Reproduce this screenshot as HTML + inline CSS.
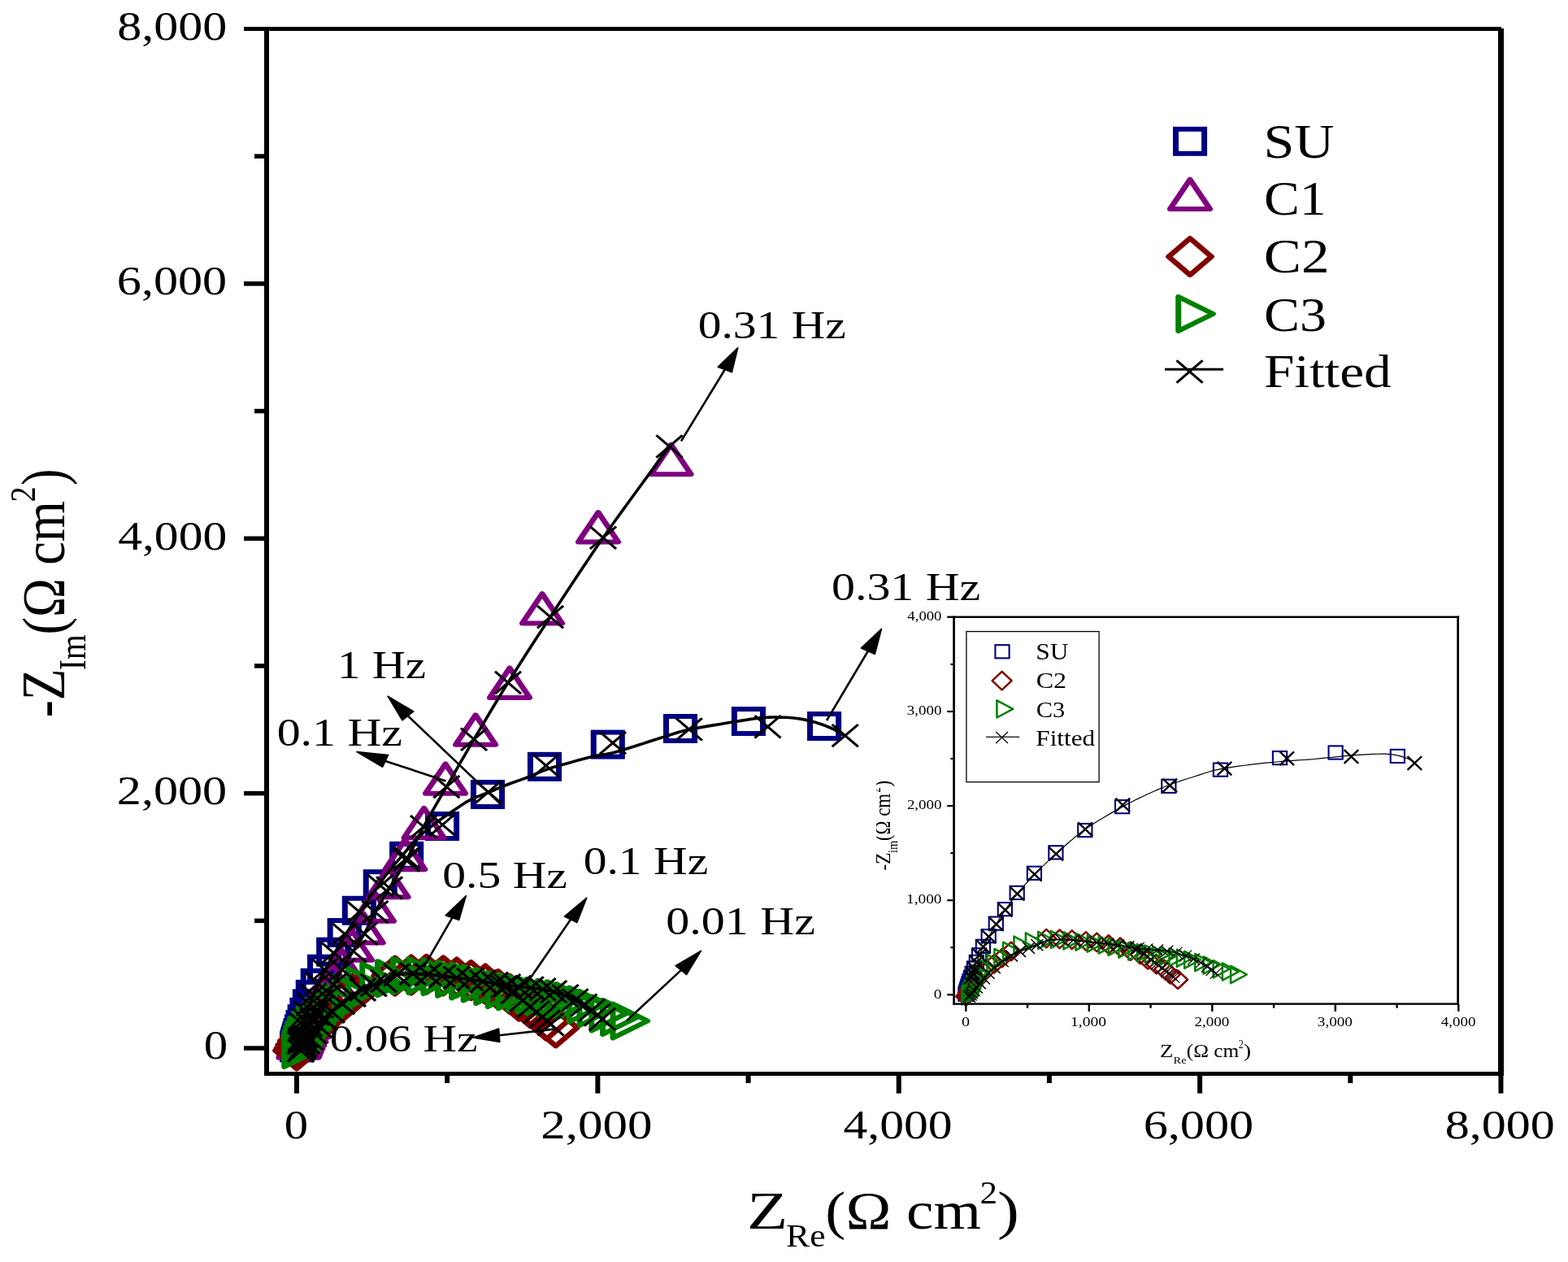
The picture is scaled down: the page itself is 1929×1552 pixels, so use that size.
<!DOCTYPE html><html><head><meta charset="utf-8"><title>Nyquist plot</title><style>html,body{margin:0;padding:0;background:#fff;}svg{display:block;}</style></head><body>
<svg width="1929" height="1552" viewBox="0 0 1929 1552" font-family="Liberation Serif, Times New Roman, serif" fill="#000">
<rect width="100%" height="100%" fill="#fff"/>
<defs>
<rect id="msq" x="-15" y="-15" width="30" height="30" fill="none" stroke="#000080" stroke-width="6" stroke-linejoin="miter"/>
<path id="mtri" d="M0,-18.2L21,18.2L-21,18.2Z" fill="none" stroke="#800080" stroke-width="6" stroke-linejoin="round"/>
<path id="mdia" d="M0,-22.5L22.5,0L0,22.5L-22.5,0Z" fill="none" stroke="#800000" stroke-width="6" stroke-linejoin="round"/>
<path id="mrt" d="M-18.2,-21L18.2,0L-18.2,21Z" fill="none" stroke="#008000" stroke-width="6" stroke-linejoin="round"/>
<path id="mx" d="M-13.7,-13.7L13.7,13.7M-13.7,13.7L13.7,-13.7" fill="none" stroke="#000" stroke-width="2.8"/>
<rect id="isq" x="-8.6" y="-8.1" width="17.2" height="16.2" fill="none" stroke="#000080" stroke-width="2.1"/>
<path id="idia" d="M0,-11.3L12,0L0,11.3L-12,0Z" fill="none" stroke="#800000" stroke-width="2.5" stroke-linejoin="round"/>
<path id="irt" d="M-9.9,-10.6L9.9,0L-9.9,10.6Z" fill="none" stroke="#008000" stroke-width="2.5" stroke-linejoin="round"/>
<path id="ix" d="M-7.4,-7L7.4,7M-7.4,7L7.4,-7" fill="none" stroke="#000" stroke-width="1.2"/>
<path id="ixb" d="M-8.8,-8.3L8.8,8.3M-8.8,8.3L8.8,-8.3" fill="none" stroke="#000" stroke-width="2.4"/>
<clipPath id="insclip"><rect x="1078" y="700" width="851" height="640"/></clipPath>
</defs>
<g>
<use href="#msq" transform="translate(365.09,1288.35) scale(1.17,1)"/>
<use href="#msq" transform="translate(365.11,1288.19) scale(1.17,1)"/>
<use href="#msq" transform="translate(365.14,1288) scale(1.17,1)"/>
<use href="#msq" transform="translate(365.18,1287.77) scale(1.17,1)"/>
<use href="#msq" transform="translate(365.23,1287.48) scale(1.17,1)"/>
<use href="#msq" transform="translate(365.3,1287.13) scale(1.17,1)"/>
<use href="#msq" transform="translate(365.38,1286.69) scale(1.17,1)"/>
<use href="#msq" transform="translate(365.49,1286.15) scale(1.17,1)"/>
<use href="#msq" transform="translate(365.63,1285.48) scale(1.17,1)"/>
<use href="#msq" transform="translate(365.81,1284.65) scale(1.17,1)"/>
<use href="#msq" transform="translate(366.04,1283.63) scale(1.17,1)"/>
<use href="#msq" transform="translate(366.33,1282.37) scale(1.17,1)"/>
<use href="#msq" transform="translate(366.7,1280.82) scale(1.17,1)"/>
<use href="#msq" transform="translate(367.18,1278.9) scale(1.17,1)"/>
<use href="#msq" transform="translate(367.8,1276.52) scale(1.17,1)"/>
<use href="#msq" transform="translate(368.59,1273.6) scale(1.17,1)"/>
<use href="#msq" transform="translate(369.6,1269.99) scale(1.17,1)"/>
<use href="#msq" transform="translate(370.89,1265.53) scale(1.17,1)"/>
<use href="#msq" transform="translate(372.56,1260.02) scale(1.17,1)"/>
<use href="#msq" transform="translate(374.69,1253.22) scale(1.17,1)"/>
<use href="#msq" transform="translate(377.42,1244.83) scale(1.17,1)"/>
<use href="#msq" transform="translate(380.93,1234.47) scale(1.17,1)"/>
<use href="#msq" transform="translate(384.81,1222.87) scale(1.17,1)"/>
<use href="#msq" transform="translate(390.74,1208.77) scale(1.17,1)"/>
<use href="#msq" transform="translate(399.07,1191.69) scale(1.17,1)"/>
<use href="#msq" transform="translate(410.18,1170.69) scale(1.17,1)"/>
<use href="#msq" transform="translate(423.7,1147.03) scale(1.17,1)"/>
<use href="#msq" transform="translate(441.85,1119.76) scale(1.17,1)"/>
<use href="#msq" transform="translate(467.77,1087.17) scale(1.17,1)"/>
<use href="#msq" transform="translate(500.18,1052.85) scale(1.17,1)"/>
<use href="#msq" transform="translate(544.07,1016.03) scale(1.17,1)"/>
<use href="#msq" transform="translate(599.99,977.01) scale(1.17,1)"/>
<use href="#msq" transform="translate(669.99,942.85) scale(1.17,1)"/>
<use href="#msq" transform="translate(747.77,915.58) scale(1.17,1)"/>
<use href="#msq" transform="translate(837.02,896) scale(1.17,1)"/>
<use href="#msq" transform="translate(920.91,887.06) scale(1.17,1)"/>
<use href="#msq" transform="translate(1014.06,893.02) scale(1.17,1)"/>
<use href="#mtri" transform="translate(367.39,1282.56) scale(1.17,1)"/>
<use href="#mtri" transform="translate(367.99,1281.15) scale(1.17,1)"/>
<use href="#mtri" transform="translate(368.74,1279.42) scale(1.17,1)"/>
<use href="#mtri" transform="translate(369.67,1277.32) scale(1.17,1)"/>
<use href="#mtri" transform="translate(370.84,1274.75) scale(1.17,1)"/>
<use href="#mtri" transform="translate(372.3,1271.63) scale(1.17,1)"/>
<use href="#mtri" transform="translate(374.13,1267.81) scale(1.17,1)"/>
<use href="#mtri" transform="translate(376.41,1263.16) scale(1.17,1)"/>
<use href="#mtri" transform="translate(379.26,1257.49) scale(1.17,1)"/>
<use href="#mtri" transform="translate(382.83,1250.57) scale(1.17,1)"/>
<use href="#mtri" transform="translate(387.28,1242.14) scale(1.17,1)"/>
<use href="#mtri" transform="translate(392.85,1231.85) scale(1.17,1)"/>
<use href="#mtri" transform="translate(399.82,1219.31) scale(1.17,1)"/>
<use href="#mtri" transform="translate(408.52,1204.01) scale(1.17,1)"/>
<use href="#mtri" transform="translate(419.4,1185.35) scale(1.17,1)"/>
<use href="#mtri" transform="translate(433,1162.6) scale(1.17,1)"/>
<use href="#mtri" transform="translate(446.7,1141.3) scale(1.17,1)"/>
<use href="#mtri" transform="translate(459.9,1114.6) scale(1.17,1)"/>
<use href="#mtri" transform="translate(477.6,1085) scale(1.17,1)"/>
<use href="#mtri" transform="translate(498.3,1051) scale(1.17,1)"/>
<use href="#mtri" transform="translate(521.6,1012) scale(1.17,1)"/>
<use href="#mtri" transform="translate(548,957.6) scale(1.17,1)"/>
<use href="#mtri" transform="translate(585.1,897.5) scale(1.17,1)"/>
<use href="#mtri" transform="translate(627,839.7) scale(1.17,1)"/>
<use href="#mtri" transform="translate(667,748.4) scale(1.17,1)"/>
<use href="#mtri" transform="translate(736,648.3) scale(1.17,1)"/>
<use href="#mtri" transform="translate(825.5,565) scale(1.17,1)"/>
<use href="#mdia" transform="translate(683.69,1263.93) scale(1.17,1)"/>
<use href="#mdia" transform="translate(672.4,1255.31) scale(1.17,1)"/>
<use href="#mdia" transform="translate(663.14,1246.69) scale(1.17,1)"/>
<use href="#mdia" transform="translate(651.29,1238.7) scale(1.17,1)"/>
<use href="#mdia" transform="translate(638.51,1231.02) scale(1.17,1)"/>
<use href="#mdia" transform="translate(627.21,1222.4) scale(1.17,1)"/>
<use href="#mdia" transform="translate(612.77,1216.6) scale(1.17,1)"/>
<use href="#mdia" transform="translate(597.03,1210.02) scale(1.17,1)"/>
<use href="#mdia" transform="translate(579.44,1205.64) scale(1.17,1)"/>
<use href="#mdia" transform="translate(561.85,1202.03) scale(1.17,1)"/>
<use href="#mdia" transform="translate(545.37,1199.99) scale(1.17,1)"/>
<use href="#mdia" transform="translate(524.44,1198.43) scale(1.17,1)"/>
<use href="#mdia" transform="translate(505.92,1199.05) scale(1.17,1)"/>
<use href="#mdia" transform="translate(485.92,1200.15) scale(1.17,1)"/>
<use href="#mdia" transform="translate(433,1222.5) scale(1.17,1)"/>
<use href="#mdia" transform="translate(419.4,1233.5) scale(1.17,1)"/>
<use href="#mdia" transform="translate(407.8,1243) scale(1.17,1)"/>
<use href="#mdia" transform="translate(396.2,1252) scale(1.17,1)"/>
<use href="#mdia" transform="translate(386.6,1260) scale(1.17,1)"/>
<use href="#mdia" transform="translate(380,1267) scale(1.17,1)"/>
<use href="#mdia" transform="translate(374.4,1274) scale(1.17,1)"/>
<use href="#mdia" transform="translate(370.8,1280) scale(1.17,1)"/>
<use href="#mdia" transform="translate(368.2,1285) scale(1.17,1)"/>
<use href="#mdia" transform="translate(366.6,1289) scale(1.17,1)"/>
<use href="#mdia" transform="translate(365,1292) scale(1.17,1)"/>
<use href="#mrt" transform="translate(775.3,1255.5) scale(1.17,1)"/>
<use href="#mrt" transform="translate(762.8,1250.9) scale(1.17,1)"/>
<use href="#mrt" transform="translate(749.1,1246.4) scale(1.17,1)"/>
<use href="#mrt" transform="translate(734.3,1240) scale(1.17,1)"/>
<use href="#mrt" transform="translate(721.7,1235.5) scale(1.17,1)"/>
<use href="#mrt" transform="translate(705.7,1231) scale(1.17,1)"/>
<use href="#mrt" transform="translate(694.3,1228.2) scale(1.17,1)"/>
<use href="#mrt" transform="translate(682.9,1226.7) scale(1.17,1)"/>
<use href="#mrt" transform="translate(669.2,1225) scale(1.17,1)"/>
<use href="#mrt" transform="translate(658,1223.3) scale(1.17,1)"/>
<use href="#mrt" transform="translate(646.5,1221.3) scale(1.17,1)"/>
<use href="#mrt" transform="translate(634.5,1219.2) scale(1.17,1)"/>
<use href="#mrt" transform="translate(621.5,1217) scale(1.17,1)"/>
<use href="#mrt" transform="translate(607,1213) scale(1.17,1)"/>
<use href="#mrt" transform="translate(591.4,1209.4) scale(1.17,1)"/>
<use href="#mrt" transform="translate(576.9,1206.3) scale(1.17,1)"/>
<use href="#mrt" transform="translate(559.8,1203.7) scale(1.17,1)"/>
<use href="#mrt" transform="translate(542.2,1201) scale(1.17,1)"/>
<use href="#mrt" transform="translate(524,1200) scale(1.17,1)"/>
<use href="#mrt" transform="translate(504.9,1200) scale(1.17,1)"/>
<use href="#mrt" transform="translate(485.7,1203.2) scale(1.17,1)"/>
<use href="#mrt" transform="translate(467,1206.3) scale(1.17,1)"/>
<use href="#mrt" transform="translate(449.4,1212) scale(1.17,1)"/>
<use href="#mrt" transform="translate(433,1221.5) scale(1.17,1)"/>
<use href="#mrt" transform="translate(420,1232.5) scale(1.17,1)"/>
<use href="#mrt" transform="translate(409,1242) scale(1.17,1)"/>
<use href="#mrt" transform="translate(398,1251) scale(1.17,1)"/>
<use href="#mrt" transform="translate(389,1259) scale(1.17,1)"/>
<use href="#mrt" transform="translate(383,1266) scale(1.17,1)"/>
<use href="#mrt" transform="translate(378,1273) scale(1.17,1)"/>
<use href="#mrt" transform="translate(375,1279) scale(1.17,1)"/>
<use href="#mrt" transform="translate(373,1284) scale(1.17,1)"/>
<use href="#mrt" transform="translate(372,1288) scale(1.17,1)"/>
<use href="#mrt" transform="translate(371,1291) scale(1.17,1)"/>
</g>
<path d="M1038.2,904.6L1036.93,903.76L1035.24,902.61L1033.21,901.24L1030.9,899.76L1028.37,898.28L1025.7,896.9L1022.81,895.58L1019.65,894.22L1016.28,892.86L1012.75,891.53L1009.14,890.26L1005.5,889.1L1001.8,888.02L997.97,886.98L994.05,886.01L990.09,885.13L986.12,884.35L982.2,883.7L978.3,883.19L974.4,882.8L970.5,882.51L966.6,882.31L962.7,882.18L958.8,882.1L955,882.05L951.31,882.05L947.63,882.11L943.84,882.26L939.83,882.52L935.5,882.9L931.07,883.39L926.66,883.96L922.04,884.64L916.96,885.44L911.16,886.39L904.4,887.5L896.13,888.84L886.43,890.41L876.02,892.12L865.61,893.89L855.9,895.65L847.6,897.3L840.94,898.83L835.4,900.29L830.56,901.74L826,903.21L821.32,904.75L816.1,906.4L810.22,908.24L803.99,910.24L797.63,912.31L791.37,914.35L785.42,916.28L780,918L775.27,919.49L771.08,920.83L767.2,922.06L763.41,923.2L759.49,924.3L755.2,925.4L750.52,926.45L745.62,927.41L740.58,928.33L735.49,929.26L730.44,930.23L725.5,931.3L720.65,932.48L715.81,933.73L711.01,935.04L706.26,936.37L701.58,937.7L697,939L692.47,940.28L687.97,941.54L683.55,942.81L679.25,944.09L675.12,945.38L671.2,946.7L667.69,948.02L664.59,949.31L661.66,950.63L658.66,952L655.36,953.44L651.5,955L646.88,956.73L641.66,958.62L636.12,960.59L630.58,962.56L625.34,964.46L620.7,966.2L616.75,967.78L613.26,969.24L610.07,970.64L607.02,971.99L603.95,973.33L600.7,974.7L597.28,976.04L593.8,977.31L590.31,978.58L586.83,979.9L583.38,981.32L580,982.9L576.78,984.59L573.73,986.34L570.72,988.2L567.61,990.21L564.28,992.43L560.6,994.9L556.42,997.72L551.82,1000.88L547,1004.24L542.16,1007.69L537.49,1011.08L533.2,1014.3L529.29,1017.32L525.59,1020.24L522.06,1023.11L518.68,1025.99L515.41,1028.94L512.2,1032L509.11,1035.2L506.18,1038.5L503.35,1041.86L500.58,1045.25L497.81,1048.64L495,1052L492.14,1055.31L489.28,1058.59L486.43,1061.88L483.59,1065.19L480.77,1068.55L478,1072L475.26,1075.56L472.56,1079.22L469.88,1082.94L467.22,1086.67L464.6,1090.37L462,1094L459.43,1097.55L456.89,1101.04L454.38,1104.5L451.89,1107.96L449.43,1111.45L447,1115L444.6,1118.62L442.22,1122.3L439.88,1126L437.56,1129.7L435.26,1133.38L433,1137L430.76,1140.57L428.56,1144.11L426.38,1147.62L424.22,1151.11L422.1,1154.57L420,1158L417.92,1161.4L415.85,1164.78L413.81,1168.12L411.81,1171.44L409.87,1174.74L408,1178L406.21,1181.24L404.48,1184.44L402.81,1187.62L401.19,1190.78L399.59,1193.9L398,1197L396.42,1200.07L394.85,1203.11L393.31,1206.12L391.81,1209.11L390.37,1212.07L389,1215L387.71,1217.9L386.48,1220.78L385.31,1223.62L384.19,1226.44L383.09,1229.24L382,1232L380.93,1234.74L379.89,1237.44L378.88,1240.12L377.89,1242.78L376.93,1245.4L376,1248L375.09,1250.58L374.19,1253.15L373.31,1255.69L372.48,1258.19L371.71,1260.63L371,1263L370.37,1265.32L369.81,1267.59L369.31,1269.81L368.85,1271.96L368.42,1274.03L368,1276L367.59,1277.96L367.19,1279.93L366.81,1281.81L366.48,1283.52L366.21,1284.95L366,1286" fill="none" stroke="#000" stroke-width="3.6" stroke-linejoin="round" stroke-linecap="round"/>
<path d="M823.5,549L814.44,561.38L801.76,578.63L786.81,599.01L770.96,620.73L755.57,642.05L742,661.2L730.06,678.49L718.63,695.41L707.66,711.91L697.09,727.98L686.89,743.59L677,758.7L667.46,773.26L658.33,787.28L649.56,800.84L641.1,814.01L632.93,826.87L625,839.5L617.34,851.89L609.99,863.97L602.91,875.75L596.09,887.21L589.5,898.37L583.1,909.2L576.93,919.69L571.03,929.85L565.34,939.69L559.85,949.24L554.52,958.54L549.3,967.6L544.2,976.41L539.23,984.94L534.42,993.22L529.78,1001.26L525.34,1009.08L521.1,1016.7L517.14,1024.12L513.47,1031.31L509.98,1038.29L506.6,1045.06L503.24,1051.63L499.8,1058L496.28,1064.14L492.74,1070.04L489.23,1075.73L485.76,1081.26L482.37,1086.67L479.1,1092L475.92,1097.22L472.81,1102.3L469.78,1107.26L466.86,1112.11L464.05,1116.89L461.4,1121.6L458.95,1126.28L456.69,1130.91L454.55,1135.47L452.47,1139.91L450.38,1144.2L448.2,1148.3L445.94,1152.15L443.67,1155.75L441.38,1159.2L439.08,1162.59L436.78,1166.03L434.5,1169.6L432.2,1173.36L429.86,1177.23L427.52,1181.14L425.23,1185.02L423.01,1188.78L420.9,1192.35L418.9,1195.74L416.99,1199L415.15,1202.15L413.38,1205.19L411.68,1208.14L410.02,1211.01L408.42,1213.79L406.89,1216.48L405.42,1219.08L404.01,1221.58L402.64,1223.99L401.32,1226.31L400.04,1228.52L398.81,1230.64L397.64,1232.66L396.51,1234.59L395.41,1236.45L394.35,1238.23L393.33,1239.94L392.35,1241.55L391.41,1243.08L390.5,1244.55L389.63,1245.98L388.78,1247.37L387.96,1248.73L387.18,1250.04L386.43,1251.31L385.7,1252.53L385,1253.71L384.33,1254.86L383.67,1255.98L383.04,1257.05L382.44,1258.09L381.86,1259.09L381.3,1260.06L380.76,1261.01L380.24,1261.92L379.74,1262.8L379.25,1263.65L378.79,1264.48L378.34,1265.27L377.91,1266.05L377.49,1266.8L377.09,1267.52L376.7,1268.22L376.33,1268.89L375.97,1269.54L375.63,1270.18L375.29,1270.79L374.97,1271.39L374.66,1271.96L374.37,1272.51L374.08,1273.05L373.8,1273.57L373.53,1274.07L373.28,1274.56L373.03,1275.03L372.79,1275.48L372.56,1275.92L372.34,1276.34L372.13,1276.76L371.92,1277.16L371.72,1277.54L371.53,1277.91L371.35,1278.27L371.17,1278.62L371,1278.96L370.84,1279.29L370.68,1279.6L370.53,1279.91L370.38,1280.2L370.24,1280.49L370.1,1280.77L369.97,1281.04L369.84,1281.29L369.72,1281.54L369.6,1281.79L369.49,1282.02L369.38,1282.26L369.26,1282.51L369.14,1282.75L369.04,1282.96L368.96,1283.14L368.89,1283.28" fill="none" stroke="#000" stroke-width="3.6" stroke-linejoin="round" stroke-linecap="round"/>
<path d="M370,1292L370.22,1291.67L370.52,1291.22L370.88,1290.69L371.26,1290.11L371.64,1289.53L372,1289L372.32,1288.51L372.63,1288.04L372.94,1287.56L373.26,1287.07L373.61,1286.56L374,1286L374.43,1285.4L374.89,1284.78L375.38,1284.12L375.89,1283.44L376.43,1282.74L377,1282L377.6,1281.25L378.22,1280.48L378.88,1279.69L379.56,1278.85L380.26,1277.96L381,1277L381.76,1275.96L382.56,1274.85L383.38,1273.69L384.22,1272.48L385.1,1271.25L386,1270L386.93,1268.74L387.89,1267.44L388.88,1266.12L389.89,1264.78L390.93,1263.4L392,1262L393.09,1260.56L394.19,1259.07L395.32,1257.56L396.5,1256.04L397.72,1254.51L399,1253L400.32,1251.52L401.67,1250.06L403.08,1248.59L404.55,1247.11L406.12,1245.59L407.8,1244L409.62,1242.32L411.56,1240.56L413.59,1238.76L415.7,1236.95L417.84,1235.19L420,1233.5L422.21,1231.88L424.51,1230.3L426.84,1228.76L429.18,1227.26L431.48,1225.8L433.7,1224.4L435.82,1223.05L437.86,1221.74L439.86,1220.48L441.86,1219.26L443.89,1218.1L446,1217L448.21,1215.97L450.48,1215.01L452.79,1214.1L455.11,1213.23L457.39,1212.37L459.6,1211.5L461.69,1210.67L463.69,1209.89L465.64,1209.13L467.64,1208.34L469.73,1207.48L472,1206.5L474.43,1205.31L476.96,1203.93L479.59,1202.48L482.33,1201.08L485.17,1199.84L488.1,1198.9L491.19,1198.27L494.44,1197.86L497.79,1197.61L501.17,1197.49L504.53,1197.43L507.8,1197.4L510.99,1197.41L514.15,1197.51L517.28,1197.68L520.39,1197.9L523.46,1198.15L526.5,1198.4L529.5,1198.67L532.45,1198.99L535.37,1199.33L538.27,1199.69L541.18,1200.05L544.1,1200.4L547.04,1200.74L550,1201.09L552.96,1201.44L555.91,1201.8L558.82,1202.15L561.7,1202.5L564.54,1202.85L567.34,1203.19L570.12,1203.53L572.88,1203.88L575.6,1204.23L578.3,1204.6L580.96,1204.98L583.59,1205.37L586.19,1205.77L588.77,1206.18L591.34,1206.59L593.9,1207L596.49,1207.39L599.12,1207.77L601.74,1208.16L604.29,1208.56L606.73,1209L609,1209.5L611.06,1210.03L612.93,1210.57L614.69,1211.14L616.41,1211.79L618.16,1212.53L620,1213.4L621.95,1214.41L623.96,1215.53L626,1216.75L628.04,1218.04L630.05,1219.4L632,1220.79L633.91,1222.26L635.81,1223.84L637.69,1225.47L639.52,1227.11L641.29,1228.71L643,1230.2L644.63,1231.59L646.19,1232.93L647.69,1234.21L649.15,1235.46L650.58,1236.69L652,1237.91L653.4,1239.11L654.78,1240.28L656.12,1241.44L657.44,1242.57L658.74,1243.67L660,1244.75L661.24,1245.81L662.44,1246.85L663.62,1247.86L664.78,1248.84L665.9,1249.81L667,1250.75L668.08,1251.67L669.13,1252.57L670.16,1253.45L671.15,1254.3L672.1,1255.11L673,1255.88L673.89,1256.64L674.78,1257.4L675.62,1258.13L676.39,1258.78L677.03,1259.33L677.5,1259.73" fill="none" stroke="#000" stroke-width="3.6" stroke-linejoin="round" stroke-linecap="round"/>
<path d="M370,1292L370.22,1291.67L370.52,1291.22L370.88,1290.69L371.26,1290.11L371.64,1289.53L372,1289L372.32,1288.51L372.63,1288.04L372.94,1287.56L373.26,1287.07L373.61,1286.56L374,1286L374.43,1285.4L374.89,1284.78L375.38,1284.12L375.89,1283.44L376.43,1282.74L377,1282L377.6,1281.25L378.22,1280.48L378.88,1279.69L379.56,1278.85L380.26,1277.96L381,1277L381.76,1275.96L382.56,1274.85L383.38,1273.69L384.22,1272.48L385.1,1271.25L386,1270L386.93,1268.74L387.89,1267.44L388.88,1266.12L389.89,1264.78L390.93,1263.4L392,1262L393.09,1260.56L394.19,1259.07L395.32,1257.56L396.5,1256.04L397.72,1254.51L399,1253L400.32,1251.52L401.67,1250.06L403.08,1248.59L404.55,1247.11L406.12,1245.59L407.8,1244L409.62,1242.32L411.56,1240.56L413.59,1238.76L415.7,1236.95L417.84,1235.19L420,1233.5L422.21,1231.88L424.51,1230.3L426.84,1228.76L429.18,1227.26L431.48,1225.8L433.7,1224.4L435.82,1223.05L437.86,1221.74L439.86,1220.48L441.86,1219.26L443.89,1218.1L446,1217L448.21,1215.97L450.48,1215.01L452.79,1214.1L455.11,1213.23L457.39,1212.37L459.6,1211.5L461.69,1210.67L463.69,1209.89L465.64,1209.13L467.64,1208.34L469.73,1207.48L472,1206.5L474.43,1205.31L476.96,1203.93L479.59,1202.48L482.33,1201.08L485.17,1199.84L488.1,1198.9L491.19,1198.27L494.44,1197.86L497.79,1197.61L501.17,1197.49L504.53,1197.43L507.8,1197.4L510.99,1197.41L514.15,1197.51L517.28,1197.68L520.39,1197.9L523.46,1198.15L526.5,1198.4L529.5,1198.67L532.45,1198.99L535.37,1199.33L538.27,1199.69L541.18,1200.05L544.1,1200.4L547.04,1200.74L550,1201.09L552.96,1201.44L555.91,1201.8L558.82,1202.15L561.7,1202.5L564.54,1202.85L567.34,1203.19L570.12,1203.53L572.88,1203.88L575.6,1204.23L578.3,1204.6L580.96,1204.98L583.59,1205.37L586.19,1205.77L588.77,1206.18L591.34,1206.59L593.9,1207L596.44,1207.42L598.97,1207.84L601.48,1208.27L603.98,1208.69L606.48,1209.11L609,1209.5L611.55,1209.88L614.14,1210.24L616.73,1210.59L619.29,1210.93L621.79,1211.27L624.2,1211.6L626.48,1211.93L628.64,1212.26L630.74,1212.59L632.84,1212.9L635.01,1213.21L637.3,1213.5L639.74,1213.77L642.28,1214.02L644.89,1214.26L647.52,1214.49L650.14,1214.74L652.7,1215L655.23,1215.27L657.75,1215.54L660.26,1215.82L662.75,1216.11L665.2,1216.44L667.6,1216.8L669.93,1217.18L672.2,1217.57L674.44,1217.99L676.66,1218.46L678.91,1218.99L681.2,1219.6L683.57,1220.32L686,1221.13L688.45,1222L690.88,1222.91L693.24,1223.82L695.5,1224.7L697.65,1225.55L699.71,1226.39L701.72,1227.23L703.67,1228.09L705.6,1228.97L707.5,1229.9L709.38,1230.87L711.23,1231.89L713.04,1232.93L714.83,1233.99L716.58,1235.05L718.3,1236.1L720.01,1237.15L721.72,1238.21L723.4,1239.28L725.02,1240.34L726.56,1241.38L728,1242.4L729.31,1243.39L730.5,1244.36L731.61,1245.32L732.68,1246.26L733.73,1247.19L734.8,1248.1L735.95,1249.06L737.17,1250.06L738.37,1251.06L739.49,1251.97L740.42,1252.74L741.1,1253.3" fill="none" stroke="#000" stroke-width="3.6" stroke-linejoin="round" stroke-linecap="round"/>
<g>
<use href="#mx" transform="translate(1039.7,904.6) scale(1.17,1)"/>
<use href="#mx" transform="translate(944.5,893.8) scale(1.17,1)"/>
<use href="#mx" transform="translate(847.7,896.9) scale(1.17,1)"/>
<use href="#mx" transform="translate(753.9,913.6) scale(1.17,1)"/>
<use href="#mx" transform="translate(671.7,941.5) scale(1.17,1)"/>
<use href="#mx" transform="translate(600.8,974) scale(1.17,1)"/>
<use href="#mx" transform="translate(544.4,1014.3) scale(1.17,1)"/>
<use href="#mx" transform="translate(500.55,1055.21) scale(1.17,1)"/>
<use href="#mx" transform="translate(468.15,1089.19) scale(1.17,1)"/>
<use href="#mx" transform="translate(442.22,1121.46) scale(1.17,1)"/>
<use href="#mx" transform="translate(424.07,1148.45) scale(1.17,1)"/>
<use href="#mx" transform="translate(410.55,1171.87) scale(1.17,1)"/>
<use href="#mx" transform="translate(399.44,1192.66) scale(1.17,1)"/>
<use href="#mx" transform="translate(391.11,1209.57) scale(1.17,1)"/>
<use href="#mx" transform="translate(385.18,1223.53) scale(1.17,1)"/>
<use href="#mx" transform="translate(381.3,1235.01) scale(1.17,1)"/>
<use href="#mx" transform="translate(377.79,1245.27) scale(1.17,1)"/>
<use href="#mx" transform="translate(375.06,1253.58) scale(1.17,1)"/>
<use href="#mx" transform="translate(372.93,1260.31) scale(1.17,1)"/>
<use href="#mx" transform="translate(823.5,549) scale(1.17,1)"/>
<use href="#mx" transform="translate(742,661.2) scale(1.17,1)"/>
<use href="#mx" transform="translate(677,758.7) scale(1.17,1)"/>
<use href="#mx" transform="translate(625,839.5) scale(1.17,1)"/>
<use href="#mx" transform="translate(583.1,909.2) scale(1.17,1)"/>
<use href="#mx" transform="translate(549.3,967.6) scale(1.17,1)"/>
<use href="#mx" transform="translate(521.1,1016.7) scale(1.17,1)"/>
<use href="#mx" transform="translate(499.8,1058) scale(1.17,1)"/>
<use href="#mx" transform="translate(479.1,1092) scale(1.17,1)"/>
<use href="#mx" transform="translate(461.4,1121.6) scale(1.17,1)"/>
<use href="#mx" transform="translate(448.2,1148.3) scale(1.17,1)"/>
<use href="#mx" transform="translate(434.5,1169.6) scale(1.17,1)"/>
<use href="#mx" transform="translate(420.9,1192.35) scale(1.17,1)"/>
<use href="#mx" transform="translate(410.02,1211.01) scale(1.17,1)"/>
<use href="#mx" transform="translate(401.32,1226.31) scale(1.17,1)"/>
<use href="#mx" transform="translate(394.35,1238.23) scale(1.17,1)"/>
<use href="#mx" transform="translate(388.78,1247.37) scale(1.17,1)"/>
<use href="#mx" transform="translate(384.33,1254.86) scale(1.17,1)"/>
<use href="#mx" transform="translate(380.76,1261.01) scale(1.17,1)"/>
<use href="#mx" transform="translate(371.5,1279) scale(1.17,1)"/>
<use href="#mx" transform="translate(373,1277) scale(1.17,1)"/>
<use href="#mx" transform="translate(370,1281) scale(1.17,1)"/>
<use href="#mx" transform="translate(374.5,1275) scale(1.17,1)"/>
<use href="#mx" transform="translate(370.5,1278) scale(1.17,1)"/>
<use href="#mx" transform="translate(373.5,1280) scale(1.17,1)"/>
<use href="#mx" transform="translate(371.5,1282) scale(1.17,1)"/>
<use href="#mx" transform="translate(375.5,1273) scale(1.17,1)"/>
<use href="#mx" transform="translate(369.5,1283) scale(1.17,1)"/>
<use href="#mx" transform="translate(372.5,1276) scale(1.17,1)"/>
<use href="#mx" transform="translate(370,1292) scale(1.17,1)"/>
<use href="#mx" transform="translate(372,1289) scale(1.17,1)"/>
<use href="#mx" transform="translate(374,1286) scale(1.17,1)"/>
<use href="#mx" transform="translate(377,1282) scale(1.17,1)"/>
<use href="#mx" transform="translate(381,1277) scale(1.17,1)"/>
<use href="#mx" transform="translate(386,1270) scale(1.17,1)"/>
<use href="#mx" transform="translate(392,1262) scale(1.17,1)"/>
<use href="#mx" transform="translate(399,1253) scale(1.17,1)"/>
<use href="#mx" transform="translate(407.8,1244) scale(1.17,1)"/>
<use href="#mx" transform="translate(420,1233.5) scale(1.17,1)"/>
<use href="#mx" transform="translate(433.7,1224.4) scale(1.17,1)"/>
<use href="#mx" transform="translate(446,1217) scale(1.17,1)"/>
<use href="#mx" transform="translate(459.6,1211.5) scale(1.17,1)"/>
<use href="#mx" transform="translate(472,1206.5) scale(1.17,1)"/>
<use href="#mx" transform="translate(488.1,1198.9) scale(1.17,1)"/>
<use href="#mx" transform="translate(507.8,1197.4) scale(1.17,1)"/>
<use href="#mx" transform="translate(526.5,1198.4) scale(1.17,1)"/>
<use href="#mx" transform="translate(544.1,1200.4) scale(1.17,1)"/>
<use href="#mx" transform="translate(561.7,1202.5) scale(1.17,1)"/>
<use href="#mx" transform="translate(578.3,1204.6) scale(1.17,1)"/>
<use href="#mx" transform="translate(593.9,1207) scale(1.17,1)"/>
<use href="#mx" transform="translate(609,1209.5) scale(1.17,1)"/>
<use href="#mx" transform="translate(620,1213.4) scale(1.17,1)"/>
<use href="#mx" transform="translate(632,1220.79) scale(1.17,1)"/>
<use href="#mx" transform="translate(643,1230.2) scale(1.17,1)"/>
<use href="#mx" transform="translate(652,1237.91) scale(1.17,1)"/>
<use href="#mx" transform="translate(660,1244.75) scale(1.17,1)"/>
<use href="#mx" transform="translate(667,1250.75) scale(1.17,1)"/>
<use href="#mx" transform="translate(673,1255.88) scale(1.17,1)"/>
<use href="#mx" transform="translate(677.5,1259.73) scale(1.17,1)"/>
<use href="#mx" transform="translate(370,1292) scale(1.17,1)"/>
<use href="#mx" transform="translate(372,1289) scale(1.17,1)"/>
<use href="#mx" transform="translate(374,1286) scale(1.17,1)"/>
<use href="#mx" transform="translate(377,1282) scale(1.17,1)"/>
<use href="#mx" transform="translate(381,1277) scale(1.17,1)"/>
<use href="#mx" transform="translate(386,1270) scale(1.17,1)"/>
<use href="#mx" transform="translate(392,1262) scale(1.17,1)"/>
<use href="#mx" transform="translate(399,1253) scale(1.17,1)"/>
<use href="#mx" transform="translate(407.8,1244) scale(1.17,1)"/>
<use href="#mx" transform="translate(420,1233.5) scale(1.17,1)"/>
<use href="#mx" transform="translate(433.7,1224.4) scale(1.17,1)"/>
<use href="#mx" transform="translate(446,1217) scale(1.17,1)"/>
<use href="#mx" transform="translate(459.6,1211.5) scale(1.17,1)"/>
<use href="#mx" transform="translate(472,1206.5) scale(1.17,1)"/>
<use href="#mx" transform="translate(488.1,1198.9) scale(1.17,1)"/>
<use href="#mx" transform="translate(507.8,1197.4) scale(1.17,1)"/>
<use href="#mx" transform="translate(526.5,1198.4) scale(1.17,1)"/>
<use href="#mx" transform="translate(544.1,1200.4) scale(1.17,1)"/>
<use href="#mx" transform="translate(561.7,1202.5) scale(1.17,1)"/>
<use href="#mx" transform="translate(578.3,1204.6) scale(1.17,1)"/>
<use href="#mx" transform="translate(593.9,1207) scale(1.17,1)"/>
<use href="#mx" transform="translate(609,1209.5) scale(1.17,1)"/>
<use href="#mx" transform="translate(624.2,1211.6) scale(1.17,1)"/>
<use href="#mx" transform="translate(637.3,1213.5) scale(1.17,1)"/>
<use href="#mx" transform="translate(652.7,1215) scale(1.17,1)"/>
<use href="#mx" transform="translate(667.6,1216.8) scale(1.17,1)"/>
<use href="#mx" transform="translate(681.2,1219.6) scale(1.17,1)"/>
<use href="#mx" transform="translate(695.5,1224.7) scale(1.17,1)"/>
<use href="#mx" transform="translate(707.5,1229.9) scale(1.17,1)"/>
<use href="#mx" transform="translate(718.3,1236.1) scale(1.17,1)"/>
<use href="#mx" transform="translate(728,1242.4) scale(1.17,1)"/>
<use href="#mx" transform="translate(734.8,1248.1) scale(1.17,1)"/>
<use href="#mx" transform="translate(741.1,1253.3) scale(1.17,1)"/>
</g>
<path d="M838,542.5L891.75,454.5" stroke="#000" stroke-width="2.6" fill="none"/>
<path d="M907.8,427.5L883.1,451.2L900.4,457.8Z" fill="#000" stroke="#000" stroke-width="1.5" stroke-linejoin="round"/>
<path d="M1017,886L1067.8,800.75" stroke="#000" stroke-width="2.6" fill="none"/>
<path d="M1084.5,773.4L1059.3,797L1076.3,804.5Z" fill="#000" stroke="#000" stroke-width="1.5" stroke-linejoin="round"/>
<path d="M617,990L501.85,880.35" stroke="#000" stroke-width="2.6" fill="none"/>
<path d="M477,856.2L508.8,874.9L494.9,885.8Z" fill="#000" stroke="#000" stroke-width="1.5" stroke-linejoin="round"/>
<path d="M548.5,960.4L474.2,935.9" stroke="#000" stroke-width="2.6" fill="none"/>
<path d="M438.9,924.6L477.7,928.5L470.7,943.3Z" fill="#000" stroke="#000" stroke-width="1.5" stroke-linejoin="round"/>
<path d="M521.1,1189.7L556.4,1128.7" stroke="#000" stroke-width="2.6" fill="none"/>
<path d="M573.4,1101.5L548.1,1125.8L564.7,1131.6Z" fill="#000" stroke="#000" stroke-width="1.5" stroke-linejoin="round"/>
<path d="M647.6,1210L702.05,1130.85" stroke="#000" stroke-width="2.6" fill="none"/>
<path d="M721.8,1104.2L694.3,1127L709.8,1134.7Z" fill="#000" stroke="#000" stroke-width="1.5" stroke-linejoin="round"/>
<path d="M771,1255.2L837.85,1193.1" stroke="#000" stroke-width="2.6" fill="none"/>
<path d="M862.6,1169.2L831.1,1187.6L844.6,1198.6Z" fill="#000" stroke="#000" stroke-width="1.5" stroke-linejoin="round"/>
<path d="M684.1,1265.4L614.25,1273.2" stroke="#000" stroke-width="2.6" fill="none"/>
<path d="M581.8,1275.9L613.7,1265L614.8,1281.4Z" fill="#000" stroke="#000" stroke-width="1.5" stroke-linejoin="round"/>
<text transform="translate(858.79,416) scale(1.1947,1)" font-size="48.09">0.31 Hz</text>
<text transform="translate(1023.08,737.8) scale(1.2027,1)" font-size="48.09">0.31 Hz</text>
<text transform="translate(414.96,833.7) scale(1.1505,1)" font-size="49.55">1 Hz</text>
<text transform="translate(340.68,916.5) scale(1.1778,1)" font-size="49.15">0.1 Hz</text>
<text transform="translate(544.29,1092.2) scale(1.2297,1)" font-size="46.88">0.5 Hz</text>
<text transform="translate(717.69,1074.6) scale(1.2048,1)" font-size="47.79">0.1 Hz</text>
<text transform="translate(819.37,1148.7) scale(1.2054,1)" font-size="48.09">0.01 Hz</text>
<text transform="translate(405.69,1293.3) scale(1.2247,1)" font-size="46.88">0.06 Hz</text>
<g fill="#000">
<rect x="300" y="33" width="1547" height="5"/>
<rect x="325" y="33" width="6" height="1290"/>
<rect x="1843" y="35" width="7" height="1288"/>
<rect x="325" y="1318" width="1525" height="5"/>
<rect x="300" y="1286.3" width="25" height="5.5"/>
<rect x="313" y="1129.6" width="12" height="5.5"/>
<rect x="300" y="972.9" width="25" height="5.5"/>
<rect x="313" y="816.2" width="12" height="5.5"/>
<rect x="300" y="659.5" width="25" height="5.5"/>
<rect x="313" y="502.8" width="12" height="5.5"/>
<rect x="300" y="346.1" width="25" height="5.5"/>
<rect x="313" y="189.4" width="12" height="5.5"/>
<rect x="362" y="1320" width="6" height="24.6"/>
<rect x="547.18" y="1320" width="6" height="12"/>
<rect x="732.36" y="1320" width="6" height="24.6"/>
<rect x="917.54" y="1320" width="6" height="12"/>
<rect x="1102.72" y="1320" width="6" height="24.6"/>
<rect x="1287.9" y="1320" width="6" height="12"/>
<rect x="1473.08" y="1320" width="6" height="24.6"/>
<rect x="1658.26" y="1320" width="6" height="12"/>
<rect x="1843.44" y="1320" width="6" height="24.6"/>
</g>
<text transform="translate(250.64,1302.3) scale(1.1477,1)" font-size="51.26">0</text>
<text transform="translate(143.79,988.9) scale(1.1742,1)" font-size="51.26">2,000</text>
<text transform="translate(145.21,675.5) scale(1.1617,1)" font-size="51.26">4,000</text>
<text transform="translate(143.79,362.1) scale(1.1742,1)" font-size="51.26">6,000</text>
<text transform="translate(144.2,48.7) scale(1.1706,1)" font-size="51.26">8,000</text>
<text transform="translate(349.75,1399.6) scale(1.1742,1)" font-size="49.90">0</text>
<text transform="translate(665.26,1399.6) scale(1.2218,1)" font-size="49.90">2,000</text>
<text transform="translate(1037.51,1399.6) scale(1.1933,1)" font-size="49.90">4,000</text>
<text transform="translate(1406.69,1399.6) scale(1.2070,1)" font-size="49.90">6,000</text>
<text transform="translate(1777.8,1399.6) scale(1.2033,1)" font-size="49.90">8,000</text>
<text transform="translate(918.97,1510.8) scale(1.2635,1)" font-size="65.03">Z</text>
<text transform="translate(967.09,1533) scale(1.1003,1)" font-size="39.59">Re</text>
<text transform="translate(1015.34,1510.8) scale(1.1538,1)" font-size="65.19">(Ω cm</text>
<text transform="translate(1205.44,1480.1) scale(1.1013,1)" font-size="39.05">2</text>
<text transform="translate(1227.01,1510.8) scale(1.2371,1)" font-size="65.19">)</text>
<g transform="translate(78.9,880) rotate(-90)">
<text transform="translate(-2.32,0) scale(0.8360,1)" font-size="75.84">-Z</text>
<text transform="translate(55.75,25.9) scale(0.8690,1)" font-size="45.38">Im</text>
<text transform="translate(99.61,0) scale(0.8616,1)" font-size="74.86">(Ω cm</text>
<text transform="translate(262.54,-36.2) scale(0.8572,1)" font-size="44.62">2</text>
<text transform="translate(282.96,0) scale(0.8063,1)" font-size="75.87">)</text>
</g>
<use href="#msq" transform="translate(1464,173.8) scale(1.17,1)"/>
<use href="#mtri" transform="translate(1464,238.9) scale(1.17,1)"/>
<use href="#mdia" transform="translate(1464,315.6) scale(1.17,1)"/>
<use href="#mrt" transform="translate(1471,386) scale(1.17,1)"/>
<rect x="1433" y="452.7" width="72" height="3"/>
<use href="#mx" transform="translate(1463.5,457) scale(1.17,1)"/>
<text transform="translate(1554.46,193.7) scale(1.1460,1)" font-size="59.40">SU</text>
<text transform="translate(1554.97,264.4) scale(1.0993,1)" font-size="59.70">C1</text>
<text transform="translate(1554.83,335.2) scale(1.1580,1)" font-size="59.70">C2</text>
<text transform="translate(1554.96,406.7) scale(1.1037,1)" font-size="59.70">C3</text>
<text transform="translate(1554.88,476) scale(1.1649,1)" font-size="57.69">Fitted</text>
<g clip-path="url(#insclip)">
<use href="#isq" x="1188.37" y="1222.82"/>
<use href="#isq" x="1188.39" y="1222.7"/>
<use href="#isq" x="1188.42" y="1222.56"/>
<use href="#isq" x="1188.45" y="1222.39"/>
<use href="#isq" x="1188.49" y="1222.18"/>
<use href="#isq" x="1188.54" y="1221.91"/>
<use href="#isq" x="1188.61" y="1221.59"/>
<use href="#isq" x="1188.7" y="1221.19"/>
<use href="#isq" x="1188.82" y="1220.69"/>
<use href="#isq" x="1188.96" y="1220.08"/>
<use href="#isq" x="1189.15" y="1219.32"/>
<use href="#isq" x="1189.39" y="1218.39"/>
<use href="#isq" x="1189.69" y="1217.24"/>
<use href="#isq" x="1190.09" y="1215.81"/>
<use href="#isq" x="1190.59" y="1214.06"/>
<use href="#isq" x="1191.23" y="1211.89"/>
<use href="#isq" x="1192.06" y="1209.21"/>
<use href="#isq" x="1193.12" y="1205.91"/>
<use href="#isq" x="1194.48" y="1201.83"/>
<use href="#isq" x="1196.23" y="1196.79"/>
<use href="#isq" x="1198.46" y="1190.57"/>
<use href="#isq" x="1201.33" y="1182.9"/>
<use href="#isq" x="1204.51" y="1174.31"/>
<use href="#isq" x="1209.36" y="1163.86"/>
<use href="#isq" x="1216.18" y="1151.2"/>
<use href="#isq" x="1225.27" y="1135.64"/>
<use href="#isq" x="1236.33" y="1118.11"/>
<use href="#isq" x="1251.17" y="1097.91"/>
<use href="#isq" x="1272.38" y="1073.76"/>
<use href="#isq" x="1298.89" y="1048.34"/>
<use href="#isq" x="1334.8" y="1021.05"/>
<use href="#isq" x="1380.55" y="992.14"/>
<use href="#isq" x="1437.82" y="966.84"/>
<use href="#isq" x="1501.45" y="946.63"/>
<use href="#isq" x="1574.47" y="932.12"/>
<use href="#isq" x="1643.1" y="925.5"/>
<use href="#isq" x="1719.31" y="929.92"/>
<use href="#idia" x="1449.03" y="1204.72"/>
<use href="#idia" x="1439.79" y="1198.34"/>
<use href="#idia" x="1432.21" y="1191.95"/>
<use href="#idia" x="1422.52" y="1186.03"/>
<use href="#idia" x="1412.07" y="1180.34"/>
<use href="#idia" x="1402.82" y="1173.96"/>
<use href="#idia" x="1391.01" y="1169.66"/>
<use href="#idia" x="1378.13" y="1164.79"/>
<use href="#idia" x="1363.74" y="1161.53"/>
<use href="#idia" x="1349.34" y="1158.86"/>
<use href="#idia" x="1335.86" y="1157.36"/>
<use href="#idia" x="1318.74" y="1155.67"/>
<use href="#idia" x="1303.59" y="1154.78"/>
<use href="#idia" x="1287.23" y="1154.13"/>
<use href="#idia" x="1243.93" y="1169.97"/>
<use href="#idia" x="1232.81" y="1178.12"/>
<use href="#idia" x="1223.32" y="1185.15"/>
<use href="#idia" x="1213.83" y="1192.21"/>
<use href="#idia" x="1205.97" y="1199.9"/>
<use href="#idia" x="1200.57" y="1206.29"/>
<use href="#idia" x="1195.99" y="1212.19"/>
<use href="#idia" x="1193.05" y="1216.63"/>
<use href="#idia" x="1190.92" y="1220.34"/>
<use href="#idia" x="1189.61" y="1223.3"/>
<use href="#idia" x="1188.3" y="1225.52"/>
<use href="#irt" x="1523.98" y="1198.48"/>
<use href="#irt" x="1513.75" y="1195.07"/>
<use href="#irt" x="1502.54" y="1191.74"/>
<use href="#irt" x="1490.43" y="1187"/>
<use href="#irt" x="1480.12" y="1183.66"/>
<use href="#irt" x="1467.03" y="1180.33"/>
<use href="#irt" x="1457.71" y="1178.25"/>
<use href="#irt" x="1448.38" y="1177.14"/>
<use href="#irt" x="1437.17" y="1175.88"/>
<use href="#irt" x="1428.01" y="1174.62"/>
<use href="#irt" x="1418.6" y="1173.14"/>
<use href="#irt" x="1408.78" y="1171.58"/>
<use href="#irt" x="1398.15" y="1169.95"/>
<use href="#irt" x="1386.29" y="1166.99"/>
<use href="#irt" x="1373.52" y="1164.32"/>
<use href="#irt" x="1361.66" y="1162.03"/>
<use href="#irt" x="1347.67" y="1160.1"/>
<use href="#irt" x="1333.27" y="1158.1"/>
<use href="#irt" x="1318.38" y="1156.8"/>
<use href="#irt" x="1302.76" y="1155.4"/>
<use href="#irt" x="1287.05" y="1156.37"/>
<use href="#irt" x="1271.75" y="1157.96"/>
<use href="#irt" x="1257.35" y="1162.19"/>
<use href="#irt" x="1243.93" y="1169.23"/>
<use href="#irt" x="1233.3" y="1177.38"/>
<use href="#irt" x="1224.3" y="1184.41"/>
<use href="#irt" x="1215.3" y="1191.14"/>
<use href="#irt" x="1207.93" y="1198.72"/>
<use href="#irt" x="1203.03" y="1205"/>
<use href="#irt" x="1198.94" y="1211.1"/>
<use href="#irt" x="1196.48" y="1215.89"/>
<use href="#irt" x="1194.84" y="1219.6"/>
<use href="#irt" x="1194.03" y="1222.56"/>
<use href="#irt" x="1193.21" y="1224.78"/>
<path d="M1740.5,938.4L1739.55,937.75L1738.33,936.83L1736.83,935.76L1735.06,934.61L1733.02,933.49L1730.7,932.5L1728.06,931.57L1725.09,930.61L1721.84,929.68L1718.37,928.83L1714.74,928.12L1711,927.6L1707.12,927.29L1703.05,927.16L1698.82,927.17L1694.45,927.27L1689.97,927.43L1685.4,927.6L1680.81,927.8L1676.19,928.05L1671.46,928.36L1666.54,928.72L1661.35,929.13L1655.8,929.6L1649.8,930.15L1643.39,930.8L1636.71,931.49L1629.9,932.2L1623.08,932.89L1616.4,933.5L1609.83,934.03L1603.27,934.5L1596.7,934.94L1590.13,935.39L1583.57,935.86L1577,936.4L1570.43,936.98L1563.87,937.58L1557.3,938.21L1550.73,938.89L1544.17,939.61L1537.6,940.4L1530.92,941.24L1524.1,942.11L1517.28,943.04L1510.6,944.04L1504.19,945.12L1498.2,946.3L1492.71,947.6L1487.64,949.01L1482.84,950.51L1478.17,952.06L1473.51,953.63L1468.7,955.2L1463.77,956.75L1458.84,958.29L1453.91,959.86L1448.97,961.48L1444.03,963.18L1439.1,965L1434.17,966.94L1429.23,968.97L1424.29,971.09L1419.36,973.27L1414.43,975.52L1409.5,977.8L1404.76,980.01L1400.23,982.13L1395.71,984.3L1390.97,986.68L1385.81,989.39L1380,992.6L1373.3,996.38L1365.83,1000.62L1357.93,1005.22L1349.95,1010.02L1342.21,1014.92L1335.07,1019.77L1328.46,1024.7L1322.1,1029.84L1315.98,1035.06L1310.13,1040.25L1304.53,1045.3L1299.2,1050.09L1294.18,1054.59L1289.47,1058.91L1285.03,1063.07L1280.78,1067.15L1276.69,1071.2L1272.69,1075.26L1268.77,1079.36L1264.99,1083.47L1261.35,1087.54L1257.88,1091.53L1254.58,1095.42L1251.48,1099.17L1248.59,1102.76L1245.91,1106.22L1243.42,1109.58L1241.06,1112.84L1238.81,1116.03L1236.63,1119.17L1234.54,1122.23L1232.59,1125.22L1230.74,1128.13L1228.97,1130.98L1227.25,1133.77L1225.57,1136.52L1223.91,1139.23L1222.31,1141.91L1220.76,1144.52L1219.27,1147.07L1217.84,1149.54L1216.48,1151.92L1215.19,1154.2L1213.97,1156.39L1212.81,1158.5L1211.7,1160.54L1210.66,1162.52L1209.66,1164.45L1208.72,1166.32L1207.84,1168.13L1207.01,1169.87L1206.23,1171.56L1205.5,1173.2L1204.81,1174.8L1204.18,1176.33L1203.62,1177.8L1203.1,1179.22L1202.61,1180.6L1202.12,1181.96L1201.63,1183.3L1201.13,1184.64L1200.63,1185.96L1200.14,1187.25L1199.66,1188.51L1199.2,1189.73L1198.77,1190.9L1198.35,1192.02L1197.96,1193.1L1197.58,1194.14L1197.22,1195.14L1196.87,1196.12L1196.53,1197.06L1196.21,1197.97L1195.9,1198.84L1195.6,1199.68L1195.32,1200.49L1195.05,1201.28L1194.79,1202.04L1194.53,1202.78L1194.29,1203.49L1194.06,1204.17L1193.84,1204.83L1193.63,1205.46L1193.43,1206.08L1193.23,1206.68L1193.04,1207.25L1192.86,1207.8L1192.69,1208.34L1192.52,1208.85L1192.36,1209.35L1192.21,1209.84L1192.06,1210.3L1191.92,1210.75L1191.79,1211.18L1191.66,1211.6L1191.54,1212L1191.42,1212.39L1191.3,1212.77L1191.19,1213.13L1191.09,1213.48L1190.99,1213.82L1190.89,1214.15L1190.8,1214.47L1190.71,1214.77L1190.62,1215.06L1190.54,1215.35L1190.46,1215.62L1190.39,1215.89L1190.32,1216.15L1190.25,1216.39L1190.18,1216.63L1190.12,1216.86L1190.05,1217.08L1190,1217.3L1189.94,1217.5L1189.88,1217.7L1189.83,1217.9L1189.78,1218.08L1189.74,1218.26L1189.69,1218.44L1189.64,1218.61L1189.6,1218.77L1189.56,1218.92L1189.52,1219.07L1189.49,1219.22L1189.45,1219.36L1189.42,1219.5L1189.38,1219.63L1189.35,1219.76L1189.32,1219.88L1189.29,1219.99L1189.26,1220.11L1189.24,1220.22L1189.21,1220.33L1189.19,1220.43L1189.16,1220.53L1189.14,1220.62L1189.12,1220.72L1189.1,1220.81L1189.08,1220.89L1189.06,1220.97L1189.04,1221.05L1189.02,1221.13L1189.01,1221.21L1188.99,1221.28L1188.97,1221.35L1188.96,1221.42L1188.94,1221.48L1188.93,1221.54L1188.92,1221.6L1188.9,1221.66L1188.89,1221.72L1188.88,1221.77L1188.87,1221.83L1188.86,1221.88L1188.85,1221.93L1188.84,1221.97L1188.83,1222.02L1188.82,1222.06L1188.81,1222.11L1188.8,1222.15L1188.79,1222.19L1188.79,1222.23L1188.78,1222.26L1188.77,1222.3L1188.76,1222.33L1188.76,1222.37L1188.75,1222.4L1188.75,1222.43L1188.74,1222.46L1188.73,1222.49L1188.73,1222.52L1188.72,1222.54L1188.72,1222.57L1188.71,1222.6L1188.71,1222.62L1188.71,1222.64L1188.7,1222.67L1188.7,1222.69L1188.69,1222.71L1188.69,1222.73L1188.69,1222.75L1188.68,1222.77L1188.68,1222.79L1188.68,1222.81L1188.67,1222.82" fill="none" stroke="#000" stroke-width="1.2" stroke-linejoin="round" stroke-linecap="round"/>
<path d="M1192.39,1225.52L1192.57,1225.28L1192.81,1224.95L1193.11,1224.55L1193.42,1224.12L1193.74,1223.7L1194.03,1223.3L1194.29,1222.94L1194.54,1222.59L1194.79,1222.23L1195.06,1221.87L1195.34,1221.49L1195.66,1221.08L1196.02,1220.63L1196.39,1220.17L1196.79,1219.69L1197.21,1219.18L1197.65,1218.66L1198.12,1218.11L1198.61,1217.56L1199.12,1216.99L1199.65,1216.4L1200.21,1215.78L1200.79,1215.12L1201.39,1214.41L1202.01,1213.64L1202.66,1212.82L1203.33,1211.95L1204.03,1211.06L1204.74,1210.15L1205.48,1209.22L1206.24,1208.29L1207.03,1207.33L1207.83,1206.35L1208.66,1205.35L1209.51,1204.33L1210.39,1203.3L1211.28,1202.23L1212.18,1201.13L1213.11,1200.01L1214.07,1198.88L1215.07,1197.75L1216.12,1196.63L1217.2,1195.53L1218.3,1194.45L1219.45,1193.36L1220.66,1192.26L1221.94,1191.13L1223.32,1189.96L1224.8,1188.71L1226.39,1187.41L1228.06,1186.07L1229.78,1184.74L1231.53,1183.43L1233.3,1182.18L1235.11,1180.98L1236.98,1179.81L1238.9,1178.67L1240.81,1177.55L1242.69,1176.48L1244.51,1175.44L1246.24,1174.43L1247.9,1173.46L1249.54,1172.53L1251.18,1171.63L1252.84,1170.77L1254.57,1169.95L1256.37,1169.19L1258.23,1168.48L1260.13,1167.81L1262.02,1167.16L1263.88,1166.52L1265.69,1165.88L1267.41,1165.26L1269.04,1164.69L1270.64,1164.12L1272.27,1163.54L1273.98,1162.9L1275.84,1162.18L1277.83,1161.3L1279.9,1160.27L1282.05,1159.2L1284.29,1158.16L1286.61,1157.24L1289.01,1156.54L1291.54,1156.08L1294.2,1155.77L1296.94,1155.59L1299.71,1155.5L1302.46,1155.46L1305.13,1155.43L1307.74,1155.44L1310.32,1155.52L1312.88,1155.64L1315.42,1155.8L1317.94,1155.99L1320.43,1156.17L1322.88,1156.38L1325.29,1156.61L1327.68,1156.86L1330.06,1157.13L1332.44,1157.4L1334.83,1157.66L1337.24,1157.91L1339.66,1158.17L1342.08,1158.43L1344.49,1158.69L1346.87,1158.95L1349.22,1159.21L1351.55,1159.47L1353.84,1159.72L1356.12,1159.98L1358.37,1160.23L1360.6,1160.5L1362.81,1160.77L1364.98,1161.05L1367.14,1161.34L1369.26,1161.64L1371.37,1161.94L1373.47,1162.24L1375.57,1162.55L1377.69,1162.84L1379.84,1163.12L1381.98,1163.4L1384.07,1163.7L1386.06,1164.03L1387.92,1164.4L1389.61,1164.79L1391.14,1165.19L1392.58,1165.62L1393.99,1166.09L1395.41,1166.64L1396.92,1167.29L1398.52,1168.03L1400.16,1168.86L1401.83,1169.77L1403.5,1170.73L1405.14,1171.73L1406.74,1172.76L1408.3,1173.85L1409.86,1175.02L1411.39,1176.23L1412.89,1177.45L1414.34,1178.63L1415.74,1179.74L1417.07,1180.77L1418.34,1181.76L1419.57,1182.71L1420.77,1183.64L1421.94,1184.54L1423.1,1185.44L1424.25,1186.33L1425.37,1187.21L1426.48,1188.06L1427.56,1188.9L1428.61,1189.72L1429.65,1190.52L1430.66,1191.3L1431.65,1192.07L1432.61,1192.82L1433.56,1193.55L1434.48,1194.26L1435.37,1194.96L1436.25,1195.64L1437.12,1196.31L1437.96,1196.96L1438.77,1197.59L1439.54,1198.19L1440.28,1198.76L1441.01,1199.33L1441.74,1199.89L1442.43,1200.43L1443.05,1200.91L1443.58,1201.32L1443.96,1201.62" fill="none" stroke="#000" stroke-width="1.6" stroke-linejoin="round" stroke-linecap="round"/>
<path d="M1192.39,1225.52L1192.57,1225.28L1192.81,1224.95L1193.11,1224.55L1193.42,1224.12L1193.74,1223.7L1194.03,1223.3L1194.29,1222.94L1194.54,1222.59L1194.79,1222.23L1195.06,1221.87L1195.34,1221.49L1195.66,1221.08L1196.02,1220.63L1196.39,1220.17L1196.79,1219.69L1197.21,1219.18L1197.65,1218.66L1198.12,1218.11L1198.61,1217.56L1199.12,1216.99L1199.65,1216.4L1200.21,1215.78L1200.79,1215.12L1201.39,1214.41L1202.01,1213.64L1202.66,1212.82L1203.33,1211.95L1204.03,1211.06L1204.74,1210.15L1205.48,1209.22L1206.24,1208.29L1207.03,1207.33L1207.83,1206.35L1208.66,1205.35L1209.51,1204.33L1210.39,1203.3L1211.28,1202.23L1212.18,1201.13L1213.11,1200.01L1214.07,1198.88L1215.07,1197.75L1216.12,1196.63L1217.2,1195.53L1218.3,1194.45L1219.45,1193.36L1220.66,1192.26L1221.94,1191.13L1223.32,1189.96L1224.8,1188.71L1226.39,1187.41L1228.06,1186.07L1229.78,1184.74L1231.53,1183.43L1233.3,1182.18L1235.11,1180.98L1236.98,1179.81L1238.9,1178.67L1240.81,1177.55L1242.69,1176.48L1244.51,1175.44L1246.24,1174.43L1247.9,1173.46L1249.54,1172.53L1251.18,1171.63L1252.84,1170.77L1254.57,1169.95L1256.37,1169.19L1258.23,1168.48L1260.13,1167.81L1262.02,1167.16L1263.88,1166.52L1265.69,1165.88L1267.41,1165.26L1269.04,1164.69L1270.64,1164.12L1272.27,1163.54L1273.98,1162.9L1275.84,1162.18L1277.83,1161.3L1279.9,1160.27L1282.05,1159.2L1284.29,1158.16L1286.61,1157.24L1289.01,1156.54L1291.54,1156.08L1294.2,1155.77L1296.94,1155.59L1299.71,1155.5L1302.46,1155.46L1305.13,1155.43L1307.74,1155.44L1310.32,1155.52L1312.88,1155.64L1315.42,1155.8L1317.94,1155.99L1320.43,1156.17L1322.88,1156.38L1325.29,1156.61L1327.68,1156.86L1330.06,1157.13L1332.44,1157.4L1334.83,1157.66L1337.24,1157.91L1339.66,1158.17L1342.08,1158.43L1344.49,1158.69L1346.87,1158.95L1349.22,1159.21L1351.55,1159.47L1353.84,1159.72L1356.12,1159.98L1358.37,1160.23L1360.6,1160.5L1362.81,1160.77L1364.98,1161.05L1367.14,1161.34L1369.26,1161.64L1371.37,1161.94L1373.47,1162.24L1375.57,1162.55L1377.65,1162.85L1379.71,1163.17L1381.77,1163.49L1383.81,1163.8L1385.86,1164.11L1387.92,1164.4L1390.01,1164.68L1392.12,1164.94L1394.24,1165.2L1396.34,1165.46L1398.38,1165.71L1400.36,1165.95L1402.22,1166.2L1403.99,1166.45L1405.71,1166.69L1407.43,1166.92L1409.2,1167.15L1411.07,1167.36L1413.07,1167.56L1415.15,1167.75L1417.28,1167.92L1419.43,1168.1L1421.58,1168.28L1423.67,1168.47L1425.74,1168.67L1427.81,1168.87L1429.86,1169.08L1431.89,1169.3L1433.9,1169.54L1435.86,1169.81L1437.77,1170.09L1439.63,1170.38L1441.46,1170.69L1443.28,1171.04L1445.12,1171.43L1446.99,1171.88L1448.93,1172.41L1450.92,1173.01L1452.92,1173.66L1454.91,1174.33L1456.84,1175.01L1458.69,1175.66L1460.45,1176.29L1462.14,1176.91L1463.78,1177.54L1465.38,1178.17L1466.95,1178.83L1468.51,1179.51L1470.05,1180.23L1471.56,1180.99L1473.04,1181.76L1474.5,1182.54L1475.93,1183.33L1477.34,1184.11L1478.74,1184.88L1480.14,1185.67L1481.52,1186.46L1482.84,1187.25L1484.1,1188.02L1485.28,1188.77L1486.35,1189.51L1487.32,1190.23L1488.23,1190.94L1489.11,1191.63L1489.97,1192.32L1490.84,1193L1491.78,1193.71L1492.78,1194.45L1493.77,1195.19L1494.67,1195.86L1495.44,1196.43L1496,1196.85" fill="none" stroke="#000" stroke-width="1.6" stroke-linejoin="round" stroke-linecap="round"/>
<use href="#ixb" x="1740.29" y="938.5"/>
<use href="#ixb" x="1662.4" y="930.49"/>
<use href="#ixb" x="1583.21" y="932.79"/>
<use href="#ixb" x="1506.47" y="945.16"/>
<use href="#ixb" x="1439.22" y="965.84"/>
<use href="#ixb" x="1381.21" y="989.91"/>
<use href="#ixb" x="1335.07" y="1019.77"/>
<use href="#ixb" x="1299.2" y="1050.09"/>
<use href="#ixb" x="1272.69" y="1075.26"/>
<use href="#ixb" x="1251.48" y="1099.17"/>
<use href="#ixb" x="1236.63" y="1119.17"/>
<use href="#ixb" x="1225.57" y="1136.52"/>
<use href="#ixb" x="1216.48" y="1151.92"/>
<use href="#ixb" x="1209.66" y="1164.45"/>
<use href="#ixb" x="1204.81" y="1174.8"/>
<use href="#ixb" x="1201.63" y="1183.3"/>
<use href="#ixb" x="1198.77" y="1190.9"/>
<use href="#ixb" x="1196.53" y="1197.06"/>
<use href="#ixb" x="1194.79" y="1202.04"/>
<use href="#ix" x="1192.39" y="1225.52"/>
<use href="#ix" x="1194.03" y="1223.3"/>
<use href="#ix" x="1195.66" y="1221.08"/>
<use href="#ix" x="1198.12" y="1218.11"/>
<use href="#ix" x="1201.39" y="1214.41"/>
<use href="#ix" x="1205.48" y="1209.22"/>
<use href="#ix" x="1210.39" y="1203.3"/>
<use href="#ix" x="1216.12" y="1196.63"/>
<use href="#ix" x="1223.32" y="1189.96"/>
<use href="#ix" x="1233.3" y="1182.18"/>
<use href="#ix" x="1244.51" y="1175.44"/>
<use href="#ix" x="1254.57" y="1169.95"/>
<use href="#ix" x="1265.69" y="1165.88"/>
<use href="#ix" x="1275.84" y="1162.18"/>
<use href="#ix" x="1289.01" y="1156.54"/>
<use href="#ix" x="1305.13" y="1155.43"/>
<use href="#ix" x="1320.43" y="1156.17"/>
<use href="#ix" x="1334.83" y="1157.66"/>
<use href="#ix" x="1349.22" y="1159.21"/>
<use href="#ix" x="1362.81" y="1160.77"/>
<use href="#ix" x="1375.57" y="1162.55"/>
<use href="#ix" x="1387.92" y="1164.4"/>
<use href="#ix" x="1396.92" y="1167.29"/>
<use href="#ix" x="1406.74" y="1172.76"/>
<use href="#ix" x="1415.74" y="1179.74"/>
<use href="#ix" x="1423.1" y="1185.44"/>
<use href="#ix" x="1429.65" y="1190.52"/>
<use href="#ix" x="1435.37" y="1194.96"/>
<use href="#ix" x="1440.28" y="1198.76"/>
<use href="#ix" x="1443.96" y="1201.62"/>
<use href="#ix" x="1192.39" y="1225.52"/>
<use href="#ix" x="1194.03" y="1223.3"/>
<use href="#ix" x="1195.66" y="1221.08"/>
<use href="#ix" x="1198.12" y="1218.11"/>
<use href="#ix" x="1201.39" y="1214.41"/>
<use href="#ix" x="1205.48" y="1209.22"/>
<use href="#ix" x="1210.39" y="1203.3"/>
<use href="#ix" x="1216.12" y="1196.63"/>
<use href="#ix" x="1223.32" y="1189.96"/>
<use href="#ix" x="1233.3" y="1182.18"/>
<use href="#ix" x="1244.51" y="1175.44"/>
<use href="#ix" x="1254.57" y="1169.95"/>
<use href="#ix" x="1265.69" y="1165.88"/>
<use href="#ix" x="1275.84" y="1162.18"/>
<use href="#ix" x="1289.01" y="1156.54"/>
<use href="#ix" x="1305.13" y="1155.43"/>
<use href="#ix" x="1320.43" y="1156.17"/>
<use href="#ix" x="1334.83" y="1157.66"/>
<use href="#ix" x="1349.22" y="1159.21"/>
<use href="#ix" x="1362.81" y="1160.77"/>
<use href="#ix" x="1375.57" y="1162.55"/>
<use href="#ix" x="1387.92" y="1164.4"/>
<use href="#ix" x="1400.36" y="1165.95"/>
<use href="#ix" x="1411.07" y="1167.36"/>
<use href="#ix" x="1423.67" y="1168.47"/>
<use href="#ix" x="1435.86" y="1169.81"/>
<use href="#ix" x="1446.99" y="1171.88"/>
<use href="#ix" x="1458.69" y="1175.66"/>
<use href="#ix" x="1468.51" y="1179.51"/>
<use href="#ix" x="1477.34" y="1184.11"/>
<use href="#ix" x="1485.28" y="1188.77"/>
<use href="#ix" x="1490.84" y="1193"/>
<use href="#ix" x="1496" y="1196.85"/>
<g fill="#000">
<rect x="1165.2" y="757.6" width="630" height="2.4"/>
<rect x="1172.2" y="757.6" width="2.7" height="478"/>
<rect x="1792.3" y="757.6" width="2.7" height="478"/>
<rect x="1172.2" y="1233.4" width="622.8" height="2.4"/>
<rect x="1165.2" y="1222.2" width="7" height="2.2"/>
<rect x="1169.4" y="1164.15" width="2.8" height="2.2"/>
<rect x="1165.2" y="1106.1" width="7" height="2.2"/>
<rect x="1169.4" y="1048.05" width="2.8" height="2.2"/>
<rect x="1165.2" y="990" width="7" height="2.2"/>
<rect x="1169.4" y="931.95" width="2.8" height="2.2"/>
<rect x="1165.2" y="873.9" width="7" height="2.2"/>
<rect x="1169.4" y="815.85" width="2.8" height="2.2"/>
<rect x="1187.1" y="1235" width="2.4" height="8.9"/>
<rect x="1262.85" y="1235" width="2.4" height="4.7"/>
<rect x="1338.6" y="1235" width="2.4" height="8.9"/>
<rect x="1414.35" y="1235" width="2.4" height="4.7"/>
<rect x="1490.1" y="1235" width="2.4" height="8.9"/>
<rect x="1565.85" y="1235" width="2.4" height="4.7"/>
<rect x="1641.6" y="1235" width="2.4" height="8.9"/>
<rect x="1717.35" y="1235" width="2.4" height="4.7"/>
<rect x="1793.1" y="1235" width="2.4" height="8.9"/>
</g>
<text transform="translate(1148.79,1227.5) scale(1.2408,1)" font-size="15.68">0</text>
<text transform="translate(1115.03,1111.4) scale(1.2327,1)" font-size="15.68">1,000</text>
<text transform="translate(1115.88,995.3) scale(1.2080,1)" font-size="15.68">2,000</text>
<text transform="translate(1115.81,879.2) scale(1.2099,1)" font-size="15.68">3,000</text>
<text transform="translate(1116.33,763.1) scale(1.1952,1)" font-size="15.68">4,000</text>
<text transform="translate(1182.96,1262.1) scale(1.2380,1)" font-size="16.28">0</text>
<text transform="translate(1317.06,1262.1) scale(1.1986,1)" font-size="16.28">1,000</text>
<text transform="translate(1469.42,1262.1) scale(1.1746,1)" font-size="16.28">2,000</text>
<text transform="translate(1620.86,1262.1) scale(1.1764,1)" font-size="16.28">3,000</text>
<text transform="translate(1772.87,1262.1) scale(1.1621,1)" font-size="16.28">4,000</text>
<rect x="1188.9" y="776.6" width="163.2" height="185.1" fill="none" stroke="#000" stroke-width="1.3"/>
<use href="#isq" x="1233" y="801.3"/>
<use href="#idia" x="1232.6" y="837.1"/>
<use href="#irt" x="1236.3" y="871.9"/>
<rect x="1212.9" y="905.7" width="41.2" height="1.2"/>
<use href="#ix" x="1232.6" y="907"/>
<text transform="translate(1274.2,810.8) scale(1.1030,1)" font-size="28.49">SU</text>
<text transform="translate(1274.72,846) scale(1.1430,1)" font-size="28.04">C2</text>
<text transform="translate(1274.79,881.5) scale(1.0889,1)" font-size="27.89">C3</text>
<text transform="translate(1274.36,917.1) scale(1.1201,1)" font-size="27.84">Fitted</text>
<text transform="translate(1427.05,1299.7) scale(1.2165,1)" font-size="22.08">Z</text>
<text transform="translate(1443.57,1307.9) scale(1.1145,1)" font-size="12.94">Re</text>
<text transform="translate(1459.8,1299.7) scale(1.1173,1)" font-size="22.64">(Ω cm</text>
<text transform="translate(1523.68,1288.7) scale(0.8468,1)" font-size="14.17">2</text>
<text transform="translate(1529.99,1299.7) scale(1.2044,1)" font-size="22.64">)</text>
<g transform="translate(1094.7,1070) rotate(-90)">
<text transform="translate(-0.87,0) scale(0.9243,1)" font-size="25.74">-Z</text>
<text transform="translate(20.91,9.5) scale(0.8830,1)" font-size="16.43">im</text>
<text transform="translate(36.01,0) scale(0.8643,1)" font-size="26.39">(Ω cm</text>
<text transform="translate(95.57,-11.7) scale(0.6716,1)" font-size="18.24">2</text>
<text transform="translate(102.53,0) scale(0.8709,1)" font-size="26.39">)</text>
</g>
</g>
</svg></body></html>
